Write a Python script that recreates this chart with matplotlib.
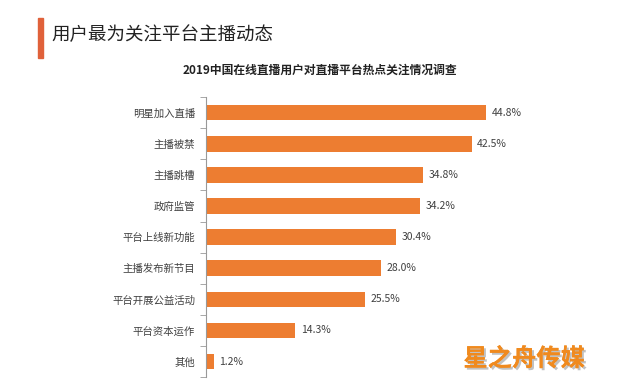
import matplotlib.pyplot as plt
import numpy as np
from matplotlib import patheffects

plt.rcParams['font.family'] = ['Noto Sans CJK SC', 'DejaVu Sans']

# 数据
categories = ['明星加入直播', '主播被禁', '主播跳槽', '政府监管', '平台上线新功能',
              '主播发布新节目', '平台开展公益活动', '平台资本运作', '其他']
values = [44.8, 42.5, 34.8, 34.2, 30.4, 28.0, 25.5, 14.3, 1.2]

bar_color = '#ED7D31'

fig = plt.figure(figsize=(6.4, 3.9), dpi=100)
ax = fig.add_axes([0.322, 0.033, 0.488, 0.718])

y = np.arange(len(categories))
ax.barh(y, values, height=0.5, color=bar_color)
ax.set_ylim(len(categories) - 0.5, -0.5)
ax.set_xlim(0, 50)

for yi, v in zip(y, values):
    ax.text(v + 0.9, yi, f'{v:.1f}%', va='center', ha='left', fontsize=7.5, color='#404040')

ax.set_yticks(y)
ax.set_yticklabels(categories, fontsize=7.5, color='#404040')
ax.tick_params(axis='y', which='major', length=0, pad=8)
ax.set_yticks(np.arange(-0.5, len(categories), 1), minor=True)
ax.tick_params(axis='y', which='minor', length=4, color='#999999', direction='out')
ax.set_xticks([])
for s in ['top', 'right', 'bottom']:
    ax.spines[s].set_visible(False)
ax.spines['left'].set_color('#999999')
ax.spines['left'].set_linewidth(0.8)

# 标题
fig.patches.append(plt.Rectangle((38 / 640, 1 - 58 / 390), 5 / 640, 40 / 390,
                                 transform=fig.transFigure, color='#E0613A'))
fig.text(51 / 640, 1 - 35 / 390, '用户最为关注平台主播动态', fontsize=13.3,
         va='center', ha='left', color='#222222')
fig.text(320 / 640, 1 - 70 / 390, '2019中国在线直播用户对直播平台热点关注情况调查',
         fontsize=8.5, va='center', ha='center', color='#222222', fontweight='bold')

# 水印
fig.text(524 / 640, 1 - 359 / 390, '星之舟传媒', fontsize=17.5, fontweight='bold',
         color='#F08A1E', va='center', ha='center',
         path_effects=[patheffects.withSimplePatchShadow(offset=(1.5, -1.5), shadow_rgbFace='#999999', alpha=0.6),
                       patheffects.Normal()])

fig.savefig('out.png', dpi=100)
